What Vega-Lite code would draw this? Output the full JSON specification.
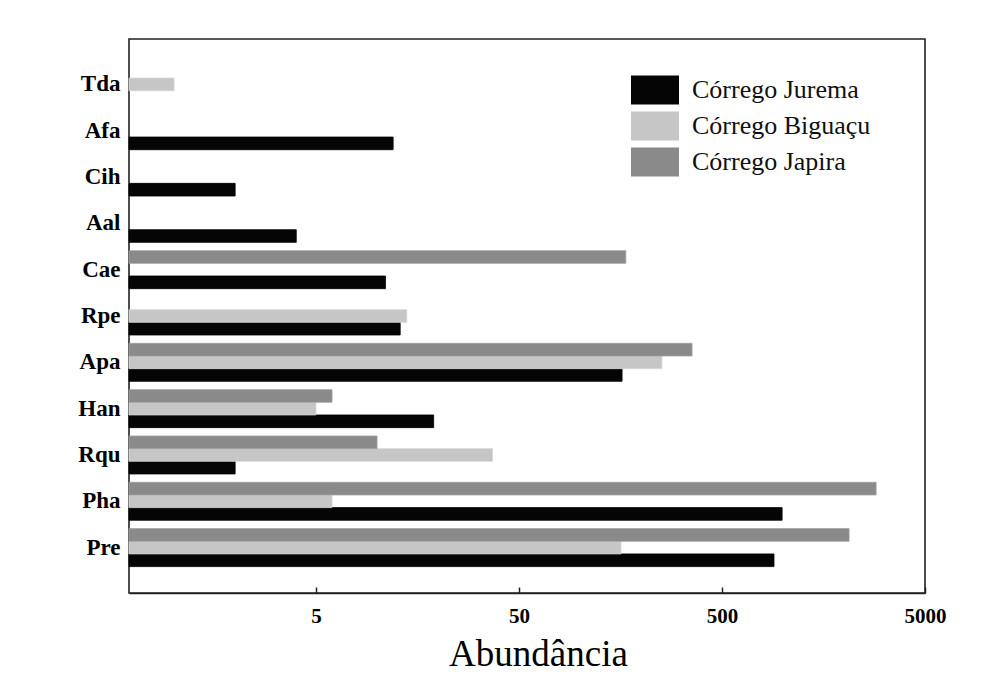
{
  "$schema": "https://vega.github.io/schema/vega-lite/v6.json",
  "width": 796,
  "height": 554,
  "autosize": "none",
  "padding": {"left": 129, "top": 39, "right": 83, "bottom": 90},
  "background": "white",
  "config": {
    "view": {"stroke": "#222222", "strokeWidth": 1.6},
    "font": "Liberation Serif"
  },
  "data": {
    "values": [
      {"especie": "Tda", "corrego": "Córrego Biguaçu", "abundancia": 1},
      {"especie": "Afa", "corrego": "Córrego Jurema", "abundancia": 12},
      {"especie": "Cih", "corrego": "Córrego Jurema", "abundancia": 2},
      {"especie": "Aal", "corrego": "Córrego Jurema", "abundancia": 4},
      {"especie": "Cae", "corrego": "Córrego Jurema", "abundancia": 11},
      {"especie": "Cae", "corrego": "Córrego Japira", "abundancia": 168},
      {"especie": "Rpe", "corrego": "Córrego Jurema", "abundancia": 13},
      {"especie": "Rpe", "corrego": "Córrego Biguaçu", "abundancia": 14},
      {"especie": "Apa", "corrego": "Córrego Jurema", "abundancia": 161},
      {"especie": "Apa", "corrego": "Córrego Biguaçu", "abundancia": 253},
      {"especie": "Apa", "corrego": "Córrego Japira", "abundancia": 356},
      {"especie": "Han", "corrego": "Córrego Jurema", "abundancia": 19},
      {"especie": "Han", "corrego": "Córrego Biguaçu", "abundancia": 5},
      {"especie": "Han", "corrego": "Córrego Japira", "abundancia": 6},
      {"especie": "Rqu", "corrego": "Córrego Jurema", "abundancia": 2},
      {"especie": "Rqu", "corrego": "Córrego Biguaçu", "abundancia": 37},
      {"especie": "Rqu", "corrego": "Córrego Japira", "abundancia": 10},
      {"especie": "Pha", "corrego": "Córrego Jurema", "abundancia": 989},
      {"especie": "Pha", "corrego": "Córrego Biguaçu", "abundancia": 6},
      {"especie": "Pha", "corrego": "Córrego Japira", "abundancia": 2872},
      {"especie": "Pre", "corrego": "Córrego Jurema", "abundancia": 902},
      {"especie": "Pre", "corrego": "Córrego Biguaçu", "abundancia": 159},
      {"especie": "Pre", "corrego": "Córrego Japira", "abundancia": 2114}
    ]
  },
  "mark": {"type": "bar", "strokeWidth": 0.8},
  "encoding": {
    "y": {
      "field": "especie",
      "type": "nominal",
      "sort": ["Tda", "Afa", "Cih", "Aal", "Cae", "Rpe", "Apa", "Han", "Rqu", "Pha", "Pre"],
      "scale": {"paddingInner": 0.18, "paddingOuter": 0.57},
      "axis": {
        "title": null,
        "ticks": false,
        "domain": false,
        "labelFont": "Liberation Serif",
        "labelFontWeight": "bold",
        "labelFontSize": 23,
        "labelColor": "#000000",
        "labelPadding": 9
      }
    },
    "yOffset": {
      "field": "corrego",
      "type": "nominal",
      "scale": {"domain": ["Córrego Japira", "Córrego Biguaçu", "Córrego Jurema"], "paddingInner": 0, "paddingOuter": 0}
    },
    "x": {
      "field": "abundancia",
      "type": "quantitative",
      "scale": {"type": "log", "domain": [0.6, 5000], "nice": false},
      "axis": {
        "title": "Abundância",
        "values": [5, 50, 500, 5000],
        "format": "d",
        "grid": false,
        "domainColor": "#222222",
        "domainWidth": 1.6,
        "tickColor": "#222222",
        "tickWidth": 1.5,
        "tickSize": -6,
        "labelFont": "Liberation Serif",
        "labelFontWeight": "bold",
        "labelFontSize": 21,
        "labelColor": "#000000",
        "labelPadding": 18,
        "labelFlush": false,
        "titleFont": "Liberation Serif",
        "titleFontWeight": "normal",
        "titleFontSize": 37,
        "titleColor": "#000000",
        "titlePadding": 10,
        "titleX": 409
      }
    },
    "x2": {"datum": 0.6},
    "color": {
      "field": "corrego",
      "type": "nominal",
      "scale": {
        "domain": ["Córrego Jurema", "Córrego Biguaçu", "Córrego Japira"],
        "range": ["#050505", "#c6c6c6", "#8a8a8a"]
      },
      "legend": {
        "title": null,
        "orient": "none",
        "legendX": 502,
        "legendY": 33,
        "padding": 0,
        "symbolType": "M-1,-0.6L1,-0.6L1,0.6L-1,0.6Z",
        "symbolSize": 2304,
        "symbolStrokeWidth": 0,
        "symbolOpacity": 1,
        "labelFont": "Liberation Serif",
        "labelFontSize": 26,
        "labelColor": "#111111",
        "labelOffset": 13,
        "labelLimit": 400,
        "clipHeight": 36,
        "rowPadding": 0
      }
    },
    "stroke": {
      "field": "corrego",
      "type": "nominal",
      "scale": {
        "domain": ["Córrego Jurema", "Córrego Biguaçu", "Córrego Japira"],
        "range": ["#000000", "#d4d4d4", "#a0a0a0"]
      },
      "legend": null
    }
  }
}
